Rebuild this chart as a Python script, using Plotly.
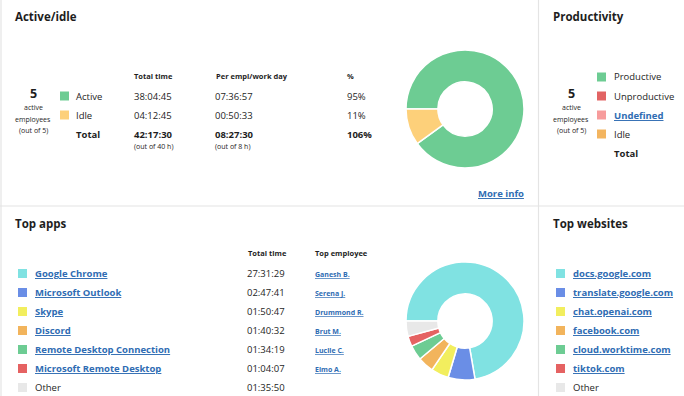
import plotly.graph_objects as go

W, H = 684, 396
FONT = "Open Sans"
TXT = "#1e1e1e"
LINK = "#2f6cb3"

# ---------------- data ----------------
ai_labels = ["Active", "Idle"]
ai_total = ["38:04:45", "04:12:45"]
ai_per_day = ["07:36:57", "00:50:33"]
ai_pct = ["95%", "11%"]
ai_seconds = [38*3600 + 4*60 + 45, 4*3600 + 12*60 + 45]
ai_colors = ["#6dcc93", "#fdd07a"]
ai_sum_total, ai_sum_per_day, ai_sum_pct = "42:17:30", "08:27:30", "106%"

prod_labels = ["Productive", "Unproductive", "Undefined", "Idle"]
prod_colors = ["#6dcc93", "#e26464", "#f79c9c", "#f3b560"]

app_names = ["Google Chrome", "Microsoft Outlook", "Skype", "Discord",
             "Remote Desktop Connection", "Microsoft Remote Desktop", "Other"]
app_times = ["27:31:29", "02:47:41", "01:50:47", "01:40:32",
             "01:34:19", "01:04:07", "01:35:50"]
app_top_employee = ["Ganesh B.", "Serena J.", "Drummond R.", "Brut M.",
                    "Lucile C.", "Elmo A.", ""]
app_colors = ["#80e2e2", "#6a8ee6", "#f2ee5e", "#f2b45c",
              "#6dcc93", "#e56262", "#e8e8e8"]

site_names = ["docs.google.com", "translate.google.com", "chat.openai.com",
              "facebook.com", "cloud.worktime.com", "tiktok.com", "Other"]
site_colors = ["#80e2e2", "#6a8ee6", "#f2ee5e", "#f2b45c",
               "#6dcc93", "#e56262", "#e8e8e8"]


def hms_to_s(t):
    h, m, s = (int(v) for v in t.split(":"))
    return h*3600 + m*60 + s


app_seconds = [hms_to_s(t) for t in app_times]

# ---------------- helpers ----------------
fig = go.Figure()
ann = []
shapes = []


def px(x):
    return x / W


def py(y):
    return 1 - y / H


def text(x, y, s, size=9.5, color=TXT, bold=False, xanchor="left"):
    if bold:
        s = "<b>" + s + "</b>"
    dx = {"left": -2, "right": 2, "center": 0}[xanchor]
    ann.append(dict(x=px(x + dx), y=py(y), xref="paper", yref="paper", text=s,
                    showarrow=False, xanchor=xanchor, yanchor="middle",
                    font=dict(family=FONT, size=size, color=color)))


def link(x, y, s, size=9.5, xanchor="left"):
    text(x, y, "<u>" + s + "</u>", size=size, color=LINK, bold=True, xanchor=xanchor)


def square(cx, cy, color, s=9):
    shapes.append(dict(type="rect", xref="paper", yref="paper",
                       x0=px(cx - s/2), x1=px(cx + s/2),
                       y0=py(cy + s/2), y1=py(cy - s/2),
                       fillcolor=color, line=dict(width=0)))


def line(x0, y0, x1, y1, color="#e4e4e4"):
    shapes.append(dict(type="line", xref="paper", yref="paper",
                       x0=px(x0), x1=px(x1), y0=py(y0), y1=py(y1),
                       line=dict(color=color, width=1.2)))


def donut(values, colors, x0, y0, x1, y1):
    fig.add_trace(go.Pie(values=values, marker=dict(colors=colors, line=dict(color="white", width=1.5)),
                         hole=0.46, sort=False, direction="clockwise", rotation=-90,
                         textinfo="none", hoverinfo="skip", showlegend=False,
                         domain=dict(x=[px(x0), px(x1)], y=[py(y1), py(y0)])))


# ---------------- grid lines ----------------
line(1, 0, 1, H)
line(538.5, 0, 538.5, H)
line(0, 206, W, 206)

# ---------------- Active/idle ----------------
text(15, 16, "Active/idle", size=11.5, bold=True)
text(33, 93, "5", size=12.5, bold=True, xanchor="center")
text(33, 108, "active", size=7, xanchor="center")
text(33, 119, "employees", size=7, xanchor="center")
text(33, 130, "(out of 5)", size=7, xanchor="center")

text(134, 76, "Total time", size=7.5, bold=True)
text(216, 76, "Per empl/work day", size=7.5, bold=True)
text(347, 76, "%", size=7.5, bold=True)
rows_y = [96, 115]
for i, lab in enumerate(ai_labels):
    y = rows_y[i]
    square(64.5, y, ai_colors[i])
    text(76, y, lab)
    text(134, y, ai_total[i])
    text(215, y, ai_per_day[i])
    text(347, y, ai_pct[i])
text(76, 134, "Total", bold=True)
text(134, 134, ai_sum_total, bold=True)
text(215, 134, ai_sum_per_day, bold=True)
text(347, 134, ai_sum_pct, bold=True)
text(134, 146, "(out of 40 h)", size=7)
text(215, 146, "(out of 8 h)", size=7)
link(524, 194, "More info", xanchor="right")

donut(ai_seconds, ai_colors, 406, 50, 524, 168)

# ---------------- Productivity ----------------
text(553, 16, "Productivity", size=11.5, bold=True)
text(571, 93, "5", size=12.5, bold=True, xanchor="center")
text(571, 108, "active", size=7, xanchor="center")
text(571, 119, "employees", size=7, xanchor="center")
text(571, 130, "(out of 5)", size=7, xanchor="center")
prod_y = [77, 96, 115, 134]
for i, lab in enumerate(prod_labels):
    square(601.5, prod_y[i], prod_colors[i])
    if lab == "Undefined":
        link(614, prod_y[i], lab)
    else:
        text(614, prod_y[i], lab)
text(614, 153, "Total", bold=True)

# ---------------- Top apps ----------------
text(15, 223, "Top apps", size=11.5, bold=True)
text(248, 253, "Total time", size=7.5, bold=True)
text(315, 253, "Top employee", size=7.5, bold=True)
list_y = [273.5, 292.5, 311.5, 330.5, 349.5, 368.5, 387.5]
for i, name in enumerate(app_names):
    y = list_y[i]
    square(22.5, y, app_colors[i])
    if name == "Other":
        text(35, y, name)
    else:
        link(35, y, name)
    text(247, y, app_times[i])
    if app_top_employee[i]:
        link(315, y + 0.5, app_top_employee[i], size=7)

donut(app_seconds, app_colors, 406, 262, 524, 380)

# ---------------- Top websites ----------------
text(553, 223, "Top websites", size=11.5, bold=True)
for i, name in enumerate(site_names):
    y = list_y[i]
    square(560.5, y, site_colors[i])
    if name == "Other":
        text(573, y, name)
    else:
        link(573, y, name)

fig.update_layout(width=W, height=H, margin=dict(l=0, r=0, t=0, b=0),
                  paper_bgcolor="white", plot_bgcolor="white",
                  annotations=ann, shapes=shapes,
                  xaxis=dict(visible=False), yaxis=dict(visible=False))
fig.write_html("out.html", config={"displayModeBar": False},
               post_script="document.body.style.margin='0';document.body.style.overflow='hidden';")
